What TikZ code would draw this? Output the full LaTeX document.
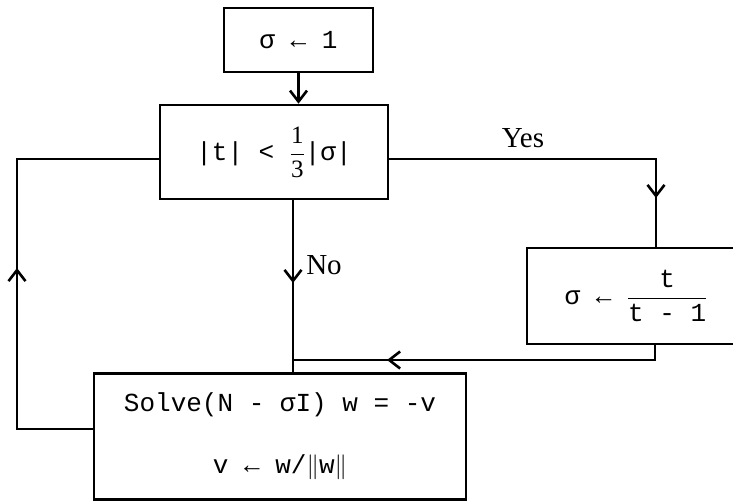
\documentclass[tikz,border=0pt]{standalone}
\usepackage{fontspec}
\setmainfont{Liberation Serif}
\setmonofont{Liberation Mono}
\usetikzlibrary{arrows.meta}
\begin{document}
\begin{tikzpicture}[x=1pt,y=-1pt,
  box/.style={draw, line width=2.6pt, inner sep=0pt, align=center,
    font=\ttfamily\fontsize{26}{30}\selectfont},
  wire/.style={line width=2.6pt},
  arr/.style={line width=2.6pt, -{Straight Barb[length=11pt,width=17pt]}},
  lab/.style={font=\fontsize{29}{32}\selectfont, inner sep=0pt}]
\useasboundingbox (0,0) rectangle (733,501);
\clip (0,0) rectangle (733,501);
% boxes
\node[box, minimum width=149pt, minimum height=64pt] (top) at (298.5,40) {σ ← 1};
\node[box, minimum width=228pt, minimum height=94pt] (cond) at (274,152)
  {|t| < $\displaystyle\frac{\hbox{\rmfamily\fontsize{25}{25}\selectfont 1}}{\hbox{\rmfamily\fontsize{25}{25}\selectfont 3}}$|σ|};
\node[box, minimum width=218pt, minimum height=96pt] (calc) at (636,296)
  {σ ← $\displaystyle\frac{\hbox{t}}{\hbox{t - 1}}$};
\node[box, minimum width=372pt, minimum height=126pt] (solve) at (280,436.5)
  {Solve(N - σI) w = -v\\[32pt] v ← w/$\|$w$\|$};
% labels
\node[lab] (yes) at (523,138) {Yes};
\node[lab] (no) at (324,265) {No};
% coordinates
\coordinate (l1) at (17,159);
\coordinate (l2) at (17,429);
\coordinate (la) at (17,268);
\coordinate (nx) at (293,283);
\coordinate (yc) at (656,159);
\coordinate (ya) at (656,198);
\coordinate (r1) at (655,360);
\coordinate (r2) at (293,360);
\coordinate (ra) at (387,360);
% connectors
\draw[arr] (top.south) -- (top.south |- cond.north);
\draw[wire] (cond.west |- l1) -- (l1) -- (l2) -- (solve.west |- l2);
\draw[arr] (l2) -- (la);
\draw[wire] (cond.south -| nx) -- (solve.north -| nx);
\draw[arr] (cond.south -| nx) -- (nx);
\draw[wire] (cond.east |- yc) -- (yc) -- (yc |- calc.north);
\draw[arr] (yc) -- (ya);
\draw[wire] (r1 |- calc.south) -- (r1) -- (r2);
\draw[arr] (r1) -- (ra);
\end{tikzpicture}
\end{document}
